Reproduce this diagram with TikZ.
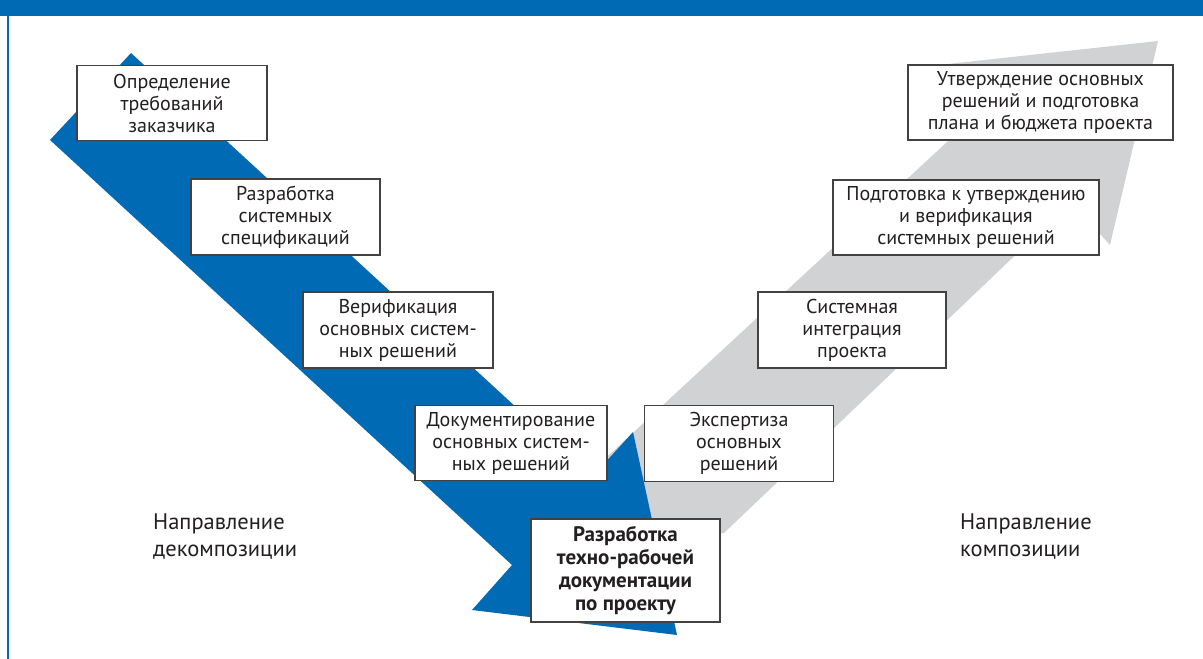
\documentclass[tikz,border=0pt]{standalone}
\usepackage{fontspec}
\setmainfont{PT Sans}
\definecolor{vblue}{RGB}{0,106,180}
\definecolor{vgray}{RGB}{209,210,212}
\definecolor{ink}{RGB}{35,31,32}
\begin{document}
\begin{tikzpicture}[x=1pt,y=-1pt,
  stage/.style={draw=ink!85, line width=1.1pt, fill=white, text=ink,
    align=center, inner sep=0pt, font=\fontsize{20}{22}\selectfont},
  dirlabel/.style={text=ink, align=left, inner sep=0pt, anchor=west,
    font=\fontsize{22.5}{27}\selectfont}]
  \useasboundingbox (0,0) rectangle (1203,659);
  \fill[white] (0,0) rectangle (1203,659);
  % header band and left rule
  \fill[vblue] (0,0) rectangle (1203,16);
  \draw[vblue, line width=2.2pt] (8,16) -- (8,659);

  % ascending (composition) arrow
  \fill[vgray] (600,540) -- (582,480) -- (987,105) -- (948,64) -- (1158,41)
    -- (1110,245) -- (1071,202) -- (724,533) -- cycle;
  % descending (decomposition) arrow
  \fill[vblue] (50,140) -- (131,53) -- (592,477) -- (633,432) -- (677,635)
    -- (472,610) -- (512,565) -- cycle;

  % stages, left branch
  \node[stage, minimum width=190, minimum height=75] (s1) at (172,103)
    {Определение\\требований\\заказчика};
  \node[stage, minimum width=189, minimum height=76] (s2) at (285.5,217)
    {Разработка\\системных\\спецификаций};
  \node[stage, minimum width=190, minimum height=76] (s3) at (398,330)
    {Верификация\\основных систем-\\ных решений};
  \node[stage, minimum width=192, minimum height=75] (s4) at (511,443)
    {Документирование\\основных систем-\\ных решений};
  % bottom stage
  \node[stage, minimum width=189, minimum height=103, font=\bfseries\fontsize{21}{22.8}\selectfont] (s5) at (625.5,570.5)
    {Разработка\\техно-рабочей\\документации\\по проекту};
  % stages, right branch
  \node[stage, minimum width=189, minimum height=76] (s6) at (739,443.5)
    {Экспертиза\\основных\\решений};
  \node[stage, minimum width=188, minimum height=76] (s7) at (852,330)
    {Системная\\интеграция\\проекта};
  \node[stage, minimum width=266, minimum height=75] (s8) at (966,217.5)
    {Подготовка к утверждению\\и верификация\\системных решений};
  \node[stage, minimum width=265, minimum height=75] (s9) at (1040.5,102.5)
    {Утверждение основных\\решений и подготовка\\плана и бюджета проекта};

  % direction labels
  \node[dirlabel] (ldec) at (153,537) {Направление\\декомпозиции};
  \node[dirlabel] (lcom) at (960,537) {Направление\\композиции};
\end{tikzpicture}
\end{document}
